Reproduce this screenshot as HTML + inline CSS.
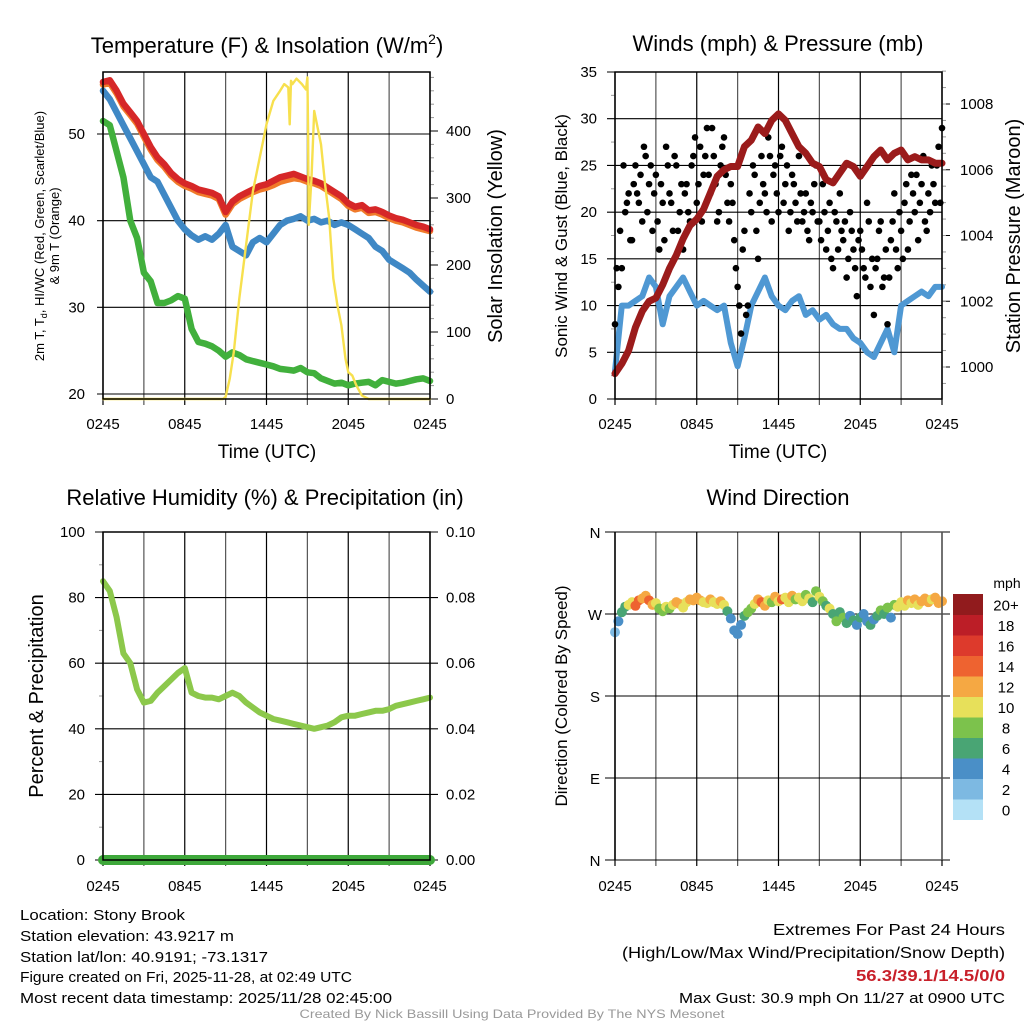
<!DOCTYPE html>
<html><head><meta charset="utf-8"><style>
html,body{margin:0;padding:0;background:#fff;}
svg{display:block;font-family:"Liberation Sans",sans-serif;}
</style></head><body>
<svg id="s" width="1024" height="1024" viewBox="0 0 1024 1024" xmlns="http://www.w3.org/2000/svg">
<rect width="1024" height="1024" fill="#fff"/>
<text x="267" y="53" font-size="22" text-anchor="middle">Temperature (F) &amp; Insolation (W/m<tspan dy="-9" font-size="14">2</tspan><tspan dy="9">)</tspan></text>
<text x="778" y="51" font-size="22" text-anchor="middle">Winds (mph) &amp; Pressure (mb)</text>
<text x="265" y="505" font-size="22" text-anchor="middle">Relative Humidity (%) &amp; Precipitation (in)</text>
<text x="778" y="505" font-size="22" text-anchor="middle">Wind Direction</text>

<text transform="translate(44,236) rotate(-90)" font-size="13" text-anchor="middle">2m T, T<tspan font-size="9" dy="3">d</tspan><tspan dy="-3">, HI/WC (Red, Green, Scarlet/Blue)</tspan></text>
<text transform="translate(59,236) rotate(-90)" font-size="13" text-anchor="middle">&amp; 9m T (Orange)</text>
<text transform="translate(502,236) rotate(-90)" font-size="20" text-anchor="middle">Solar Insolation (Yellow)</text>
<text transform="translate(567,236) rotate(-90)" font-size="17" text-anchor="middle">Sonic Wind &amp; Gust (Blue, Black)</text>
<text transform="translate(1020,236) rotate(-90)" font-size="20" text-anchor="middle">Station Pressure (Maroon)</text>
<text transform="translate(43,696) rotate(-90)" font-size="20" text-anchor="middle">Percent &amp; Precipitation</text>
<text transform="translate(567,696) rotate(-90)" font-size="17" text-anchor="middle">Direction (Colored By Speed)</text>
<text x="267" y="458" font-size="19" text-anchor="middle">Time (UTC)</text>
<text x="778" y="458" font-size="19" text-anchor="middle">Time (UTC)</text>
<text x="1007" y="588" font-size="14" text-anchor="middle">mph</text>

<text x="20" y="920" font-size="15" textLength="165" lengthAdjust="spacingAndGlyphs">Location: Stony Brook</text>
<text x="20" y="941" font-size="15" textLength="214" lengthAdjust="spacingAndGlyphs">Station elevation: 43.9217 m</text>
<text x="20" y="962" font-size="15" textLength="248" lengthAdjust="spacingAndGlyphs">Station lat/lon: 40.9191; -73.1317</text>
<text x="20" y="982" font-size="15" textLength="332" lengthAdjust="spacingAndGlyphs">Figure created on Fri, 2025-11-28, at 02:49 UTC</text>
<text x="20" y="1003" font-size="15" textLength="372" lengthAdjust="spacingAndGlyphs">Most recent data timestamp: 2025/11/28 02:45:00</text>
<text x="1005" y="935" font-size="16" text-anchor="end" textLength="232" lengthAdjust="spacingAndGlyphs">Extremes For Past 24 Hours</text>
<text x="1005" y="958" font-size="16" text-anchor="end" textLength="383" lengthAdjust="spacingAndGlyphs">(High/Low/Max Wind/Precipitation/Snow Depth)</text>
<text x="1005" y="981" font-size="16" font-weight="bold" fill="#c8202a" text-anchor="end" textLength="149" lengthAdjust="spacingAndGlyphs">56.3/39.1/14.5/0/0</text>
<text x="1005" y="1003" font-size="15" text-anchor="end" textLength="326" lengthAdjust="spacingAndGlyphs">Max Gust: 30.9 mph On 11/27 at 0900 UTC</text>
<text x="512" y="1018" font-size="12" fill="#999" text-anchor="middle" textLength="425" lengthAdjust="spacingAndGlyphs">Created By Nick Bassill Using Data Provided By The NYS Mesonet</text>
</svg>
<script>
// ---- data (hours since 0245 UTC, 0.5h step) ----
const hrs = [0,0.5,1,1.5,2,2.5,3,3.5,4,4.5,5,5.5,6,6.5,7,7.5,8,8.5,9,9.5,10,10.5,11,11.5,12,12.5,13,13.5,14,14.5,15,15.5,16,16.5,17,17.5,18,18.5,19,19.5,20,20.5,21,21.5,22,22.5,23,23.5,24];
const tempRed = [56,56.2,55,53.5,52.5,51.5,50,48.5,47.3,46.5,45.5,44.8,44.3,44,43.6,43.4,43.2,42.8,41,42.2,42.8,43.2,43.6,44,44.2,44.6,45,45.2,45.4,45.1,44.8,44.6,44.3,43.8,43.3,42.8,42,41.6,41.8,41.2,41.3,41,40.6,40.3,40.1,39.8,39.5,39.3,39];
const temp9m = [55.7,55.9,54.7,53.2,52.2,51.2,49.7,48.2,47,46.2,45.2,44.5,44,43.7,43.3,43.1,42.9,42.5,40.7,41.9,42.5,42.9,43.3,43.6,43.8,44.1,44.5,44.7,44.9,44.8,44.5,44.3,44,43.5,43,42.5,41.7,41.3,41.5,40.9,41,40.7,40.3,40,39.8,39.5,39.2,39,38.8];
const tempBlue = [55,54,52.5,51,49.5,48,46.5,45,44.5,43,41.5,40,39,38.3,37.8,38.2,37.8,38.5,39.5,37,36.5,36,37.5,38,37.5,38.5,39.5,40,40.2,40.5,40,40.2,39.8,40,39.5,39.8,39.5,39,38.5,38,37,36.5,35.5,35,34.5,34,33.2,32.5,31.8];
const tempGreen = [51.5,51,48,45,40,38,34,33,30.5,30.5,30.8,31.3,31,27.5,26,25.8,25.5,25,24.3,24.8,24.5,24,23.8,23.6,23.4,23.2,22.9,22.8,22.7,23,22.5,22.4,21.8,21.5,21.2,21.3,21,21.2,21.3,21.4,21,21.6,21.4,21.2,21.3,21.5,21.7,21.8,21.5];
const solarHrs = [0,8.8,9,9.3,9.6,10,10.5,11,11.5,12,12.5,13,13.3,13.6,13.7,13.8,13.9,14.2,14.6,14.9,15,15.05,15.1,15.3,15.5,15.8,16,16.3,16.6,16.9,17.2,17.5,17.8,18,18.3,18.6,19,19.5,24];
const solarVals = [0,0,3,30,70,150,230,310,360,410,445,460,470,465,410,475,470,478,470,462,480,400,260,330,430,400,380,320,270,180,140,110,60,40,35,20,5,0,0];
const windBlue = [3,10,10,10.5,11,13,12,8,11,12,13,11.5,10,10.5,10,9.5,10,6,3.5,6.5,10,11.5,13,11,10,9.5,10.5,11,9,9.5,8.5,9,8,7.5,7.5,6.5,6,5,4.5,6,7.5,5,10,10.5,11,11.5,11,12,12];
const pressure = [999.8,1000.1,1000.5,1001.2,1001.7,1002,1002.1,1002.5,1003,1003.4,1003.9,1004.3,1004.5,1004.8,1005.3,1005.8,1006,1006.1,1006.1,1006.7,1006.9,1007.3,1007.1,1007.5,1007.7,1007.5,1007.1,1006.7,1006.5,1006.2,1006.1,1005.7,1005.6,1005.9,1006.2,1006.1,1005.8,1006.1,1006.4,1006.6,1006.3,1006.5,1006.6,1006.3,1006.4,1006.3,1006.3,1006.2,1006.2];
const rh = [85,82,74,63,60,52,48,48.5,51,53,55,57,58.5,51,50,49.5,49.5,49,50,51,50,48,46.5,45,44,43,42.5,42,41.5,41,40.5,40,40.5,41,42,43.5,44,44,44.5,45,45.5,45.5,46,47,47.5,48,48.5,49,49.5];
const precip = [0,0,0,0,0,0,0,0,0,0,0,0,0,0,0,0,0,0,0,0,0,0,0,0,0,0,0,0,0,0,0,0,0,0,0,0,0,0,0,0,0,0,0,0,0,0,0,0,0];
// quarter-hour series
const gusts = [8,12,14,20,22,17,25,21,19,26,23,18,24,16,21,27,22,18,25,20,16,23,19,26,21,27,24,29,22,26,19,25,28,21,23,17,12,7,18,10,20,24,15,26,22,28,19,25,20,27,23,18,24,21,26,19,22,17,20,25,19,23,16,21,14,19,22,17,13,20,16,11,18,14,21,12,9,15,19,13,8,17,22,14,18,21,16,24,20,17,23,19,22,25,21,27,29];
// gusts at quarter-hour + 7.5 min
const gusts2 = [14,18,25,21,17,23,22,24,27,20,25,22,19,23,17,25,21,26,18,23,22,20,25,28,23,19,26,24,29,23,20,27,24,19,21,14,10,16,9,22,25,18,21,23,20,26,24,22,26,21,25,20,23,19,22,20,18,21,23,19,17,20,18,15,20,16,18,19,15,18,14,17,16,13,19,15,14,18,12,16,13,19,16,20,15,23,19,22,24,21,26,18,20,23,25,21];
const windDir = [250,262,272,278,280,283,279,285,287,290,285,280,282,276,273,278,276,280,283,281,277,283,286,285,288,285,283,282,286,283,281,284,280,273,265,252,248,258,268,272,276,281,286,283,279,285,283,289,284,286,288,283,290,286,288,284,291,287,283,295,289,284,279,276,270,262,272,266,260,268,263,258,266,270,262,258,264,268,274,270,277,266,280,278,283,279,285,282,286,280,284,287,283,286,288,282,284];
const windSpd = [3,4,6,7,10,11,14,15,12,13,14,12,11,8,9,10,9,10,12,13,11,10,12,12,13,12,11,10,12,11,10,12,11,6,4,4,4,5,7,8,9,10,12,15,12,11,9,13,11,15,10,11,12,9,10,11,8,10,7,9,10,8,7,11,7,8,6,9,6,5,7,4,6,5,4,7,4,6,8,7,9,5,8,10,11,10,12,11,12,11,13,12,12,11,13,12,12];
const tempTicks = [20,30,40,50];
const solarTicks = [0,100,200,300,400];
const windTicks = [0,5,10,15,20,25,30,35];
const presTicks = [1000,1002,1004,1006,1008];
const rhTicks = [0,20,40,60,80,100];
const precTicks = ["0.00","0.02","0.04","0.06","0.08","0.10"];
const dirTicks = ["N","E","S","W","N"];
const timeLabels = ["0245","0845","1445","2045","0245"];
const cbLabels = ["0","2","4","6","8","10","12","14","16","18","20+"];
const cbColors = ["#b4e1f6","#7db9e2","#4a8fc7","#49a574","#7cc24c","#e7e05a","#f5a843","#ee6330","#dd3a2c","#bc1e27","#911b1d"];

const svg = document.getElementById('s');
const NS = 'http://www.w3.org/2000/svg';
function mk(tag, a, name, parent) {
  const el = document.createElementNS(NS, tag);
  for (const k in a) el.setAttribute(k, a[k]);
  
  
  (parent || svg).appendChild(el);
  return el;
}
function txt(x, y, s, size, anchor, name) {
  const t = mk('text', {x: x, y: y, 'font-size': size, 'text-anchor': anchor}, name);
  t.textContent = s;
  return t;
}
function panel(name) { return mk('g', {}, name); }
function xScale(x0, x1) { return h => x0 + (x1 - x0) * h / 24; }
function lin(v0, p0, v1, p1) { return v => p0 + (v - v0) * (p1 - p0) / (v1 - v0); }
function timeGrid(g, x0, x1, y0, y1, ly) {
  const X = xScale(x0, x1);
  for (let i = 0; i <= 8; i++) {
    const x = X(i * 3);
    mk('line', {x1: x, y1: y0, x2: x, y2: y1 + 6, stroke: (i % 2 ? '#555' : '#000'), 'stroke-width': 1.2}, 'time-grid-line', g);
  }
  for (let i = 0; i < timeLabels.length; i++) {
    txt(X(i * 6), ly, timeLabels[i], 15, 'middle', 'time-tick-label');
  }
}
function poly(g, xs, ys, X, Y, color, w, name) {
  const pts = xs.map((h, i) => X(h).toFixed(1) + ',' + Y(ys[i]).toFixed(1)).join(' ');
  mk('polyline', {points: pts, fill: 'none', stroke: color, 'stroke-width': w, 'stroke-linejoin': 'round', 'stroke-linecap': 'round'}, name, g);
}

// ===== Panel 1: temperature =====
(function () {
  const x0 = 103, x1 = 430, y0 = 72, y1 = 399;
  const g = panel('temperature-panel');
  const X = xScale(x0, x1);
  const Y = lin(20, 394, 50, 134);
  const YS = lin(0, 399, 400, 131);
  timeGrid(g, x0, x1, y0, y1, 429);
  tempTicks.forEach(v => {
    mk('line', {x1: x0 - 6, y1: Y(v), x2: x1, y2: Y(v), stroke: '#000', 'stroke-width': 1.1}, 'temp-grid-line', g);
    txt(x0 - 18, Y(v) + 5, String(v), 15, 'end', 'temp-tick-label');
  });
  solarTicks.forEach(v => {
    mk('line', {x1: x1, y1: YS(v), x2: x1 + 8, y2: YS(v), stroke: '#000', 'stroke-width': 1}, 'solar-tick', g);
    txt(x1 + 16, YS(v) + 5, String(v), 15, 'start', 'solar-tick-label');
  });
  for (let v = 20; v <= 480; v += 20) if (v % 100) mk('line', {x1: x1, y1: YS(v), x2: x1 + 4, y2: YS(v), stroke: '#999'}, 'solar-minor-tick', g);
  poly(g, hrs, temp9m, X, Y, '#f07a2a', 6.5, 'temp-9m-line');
  poly(g, hrs, tempRed, X, Y, '#d62728', 6.5, 'temp-2m-line');
  poly(g, hrs, tempBlue, X, Y, '#3f88c5', 6.5, 'heat-index-line');
  poly(g, hrs, tempGreen, X, Y, '#41b03c', 6.5, 'dewpoint-line');
  poly(g, solarHrs, solarVals, X, YS, '#f7e04e', 2.4, 'solar-line');
  mk('rect', {x: x0, y: y0, width: x1 - x0, height: y1 - y0, fill: 'none', stroke: '#000', 'stroke-width': 1.5}, 'temp-frame', g);
})();

// ===== Panel 2: winds =====
(function () {
  const x0 = 615, x1 = 942, y0 = 72, y1 = 399;
  const g = panel('winds-panel');
  const X = xScale(x0, x1);
  const Y = lin(0, 399, 35, 72);
  const YP = lin(1000, 367, 1008, 104);
  timeGrid(g, x0, x1, y0, y1, 429);
  windTicks.forEach(v => {
    mk('line', {x1: x0 - 8, y1: Y(v), x2: x1, y2: Y(v), stroke: '#000', 'stroke-width': 1.1}, 'wind-grid-line', g);
    txt(x0 - 18, Y(v) + 5, String(v), 15, 'end', 'wind-tick-label');
  });
  for (let v = 2.5; v < 35; v += 5) mk('line', {x1: x0 - 4, y1: Y(v), x2: x0, y2: Y(v), stroke: '#999'}, 'wind-minor-tick', g);
  presTicks.forEach(v => {
    mk('line', {x1: x1, y1: YP(v), x2: x1 + 8, y2: YP(v), stroke: '#000'}, 'pressure-tick', g);
    txt(x1 + 18, YP(v) + 5, String(v), 15, 'start', 'pressure-tick-label');
  });
  for (let v = 999.5; v <= 1009; v += 0.5) mk('line', {x1: x1, y1: YP(v), x2: x1 + 4, y2: YP(v), stroke: '#999'}, 'pressure-minor-tick', g);
  poly(g, hrs, windBlue, X, Y, '#4f98d3', 6, 'sonic-wind-line');
  gusts.forEach((v, i) => {
    mk('circle', {cx: X(i * 0.25), cy: Y(v), r: 3.3, fill: '#000'}, 'gust-point', g);
  });
  gusts2.forEach((v, i) => {
    mk('circle', {cx: X(i * 0.25 + 0.125), cy: Y(v), r: 3.3, fill: '#000'}, 'gust-point', g);
  });
  poly(g, hrs, pressure, X, YP, '#9b1b1b', 7, 'pressure-line');
  mk('rect', {x: x0, y: y0, width: x1 - x0, height: y1 - y0, fill: 'none', stroke: '#000', 'stroke-width': 1.5}, 'winds-frame', g);
})();

// ===== Panel 3: RH =====
(function () {
  const x0 = 103, x1 = 430, y0 = 532, y1 = 860;
  const g = panel('rh-panel');
  const X = xScale(x0, x1);
  const Y = lin(0, 860, 100, 532);
  const YP = lin(0, 860, 0.1, 532);
  timeGrid(g, x0, x1, y0, y1, 891);
  rhTicks.forEach(v => {
    mk('line', {x1: x0 - 8, y1: Y(v), x2: x1 + 8, y2: Y(v), stroke: '#000', 'stroke-width': 1.1}, 'rh-grid-line', g);
    txt(x0 - 18, Y(v) + 5, String(v), 15, 'end', 'rh-tick-label');
  });
  for (let v = 10; v < 100; v += 20) mk('line', {x1: x0 - 4, y1: Y(v), x2: x0, y2: Y(v), stroke: '#999'}, 'rh-minor-tick', g);
  precTicks.forEach((s, i) => {
    txt(x1 + 16, Y(i * 20) + 5, s, 15, 'start', 'precip-tick-label');
  });
  poly(g, hrs, rh, X, Y, '#8cc84b', 6, 'rh-line');
  poly(g, hrs, precip, X, YP, '#3ea83a', 10, 'precip-line');
  mk('rect', {x: x0, y: y0, width: x1 - x0, height: y1 - y0, fill: 'none', stroke: '#000', 'stroke-width': 1.5}, 'rh-frame', g);
})();

// ===== Panel 4: wind direction =====
(function () {
  const x0 = 615, x1 = 942, y0 = 532, y1 = 860;
  const g = panel('direction-panel');
  const X = xScale(x0, x1);
  const Y = lin(0, 860, 360, 532);
  timeGrid(g, x0, x1, y0, y1, 891);
  dirTicks.forEach((s, i) => {
    mk('line', {x1: x0 - 10, y1: Y(i * 90), x2: x1 + 8, y2: Y(i * 90), stroke: '#000', 'stroke-width': 1.1}, 'direction-grid-line', g);
    txt(x0 - 20, Y(i * 90) + 6, s, 15, 'middle', 'direction-tick-label');
  });
  windDir.forEach((d, i) => {
    const c = cbColors[Math.min(10, Math.floor(windSpd[i] / 2))];
    mk('circle', {cx: X(i * 0.25), cy: Y(d), r: 5, fill: c}, 'direction-point', g);
  });
  mk('line', {x1: x0, y1: y0, x2: x0, y2: y1, stroke: '#000', 'stroke-width': 1.5}, 'direction-left-axis', g);
  mk('line', {x1: x1, y1: y0, x2: x1, y2: y1, stroke: '#555', 'stroke-width': 1.5}, 'direction-right-axis', g);
  const cg = mk('g', {}, 'speed-colorbar');
  const top = 594, bh = 20.5;
  cbColors.forEach((c, i) => {
    const y = top + (10 - i) * bh;
    mk('rect', {x: 953, y: y, width: 30, height: bh + 0.5, fill: c}, 'colorbar-swatch', cg);
    txt(1006, y + bh / 2 + 6, cbLabels[i], 15, 'middle', 'colorbar-label');
  });
})();
</script>
</body></html>
